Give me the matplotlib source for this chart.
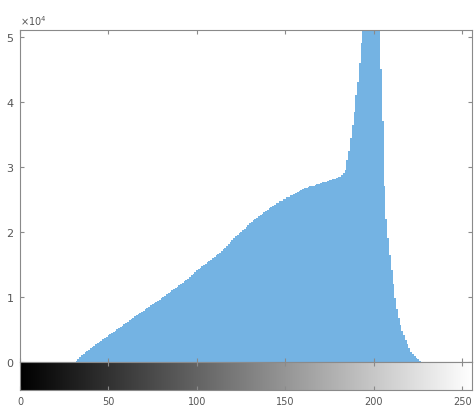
import numpy as np
import matplotlib
matplotlib.use("Agg")
import matplotlib.pyplot as plt
from matplotlib.ticker import ScalarFormatter

# histogram counts (x 1e4), gray levels 0..255
zeros_low = [0.0] * 32          # levels 0..31
rise = [0.02, 0.05, 0.08, 0.11, 0.13, 0.15, 0.17, 0.19, 0.21, 0.23,   # 32..41
        0.25, 0.27, 0.29, 0.31, 0.33, 0.35, 0.37, 0.39, 0.41, 0.43,   # 42..51
        0.44, 0.46, 0.48, 0.50, 0.52, 0.54, 0.56, 0.58, 0.60, 0.62,   # 52..61
        0.64, 0.66, 0.68, 0.70, 0.72, 0.74, 0.75, 0.77, 0.79, 0.81,   # 62..71
        0.83, 0.85, 0.87, 0.89, 0.90, 0.92, 0.94, 0.96, 0.98]         # 72..80
mid = [1.00, 1.02, 1.04, 1.06, 1.08, 1.10, 1.12, 1.14, 1.16, 1.18,    # 81..90
       1.20, 1.22, 1.24, 1.26, 1.28, 1.30, 1.33, 1.36, 1.39,          # 91..99
       1.41, 1.43, 1.45, 1.47, 1.49, 1.51, 1.53, 1.55, 1.57, 1.60,    # 100..109
       1.62, 1.64, 1.66, 1.68, 1.71, 1.73, 1.76, 1.79, 1.82,          # 110..118
       1.85, 1.88, 1.90, 1.93, 1.95, 1.98, 2.00, 2.03, 2.05, 2.08,    # 119..128
       2.10, 2.13, 2.15, 2.18, 2.20,                                  # 129..133
       2.22, 2.24, 2.26, 2.28, 2.30, 2.32, 2.34, 2.36, 2.38, 2.40,    # 134..143
       2.42, 2.44, 2.45,                                              # 144..146
       2.47, 2.48, 2.50, 2.51, 2.53, 2.54, 2.56, 2.57, 2.59, 2.60,    # 147..156
       2.61, 2.63, 2.64, 2.66, 2.67,                                  # 157..161
       2.68, 2.69, 2.70, 2.70, 2.71, 2.72, 2.73, 2.74, 2.75, 2.76,    # 162..171
       2.76, 2.77, 2.78, 2.79, 2.80, 2.81, 2.82,                      # 172..178
       2.83, 2.84, 2.85, 2.87, 2.90]                                  # 179..183
peak = [2.95, 3.10, 3.25, 3.45, 3.65, 3.85, 4.10, 4.30, 4.60, 4.90,   # 184..193
        5.30, 5.70, 6.00, 6.30, 6.50, 6.60, 6.50, 6.20, 5.80, 5.30,   # 194..203
        4.50, 3.70, 2.70, 2.20, 1.90, 1.65, 1.42, 1.20, 0.98, 0.82,   # 204..213
        0.68, 0.57, 0.48, 0.41, 0.34, 0.27, 0.21, 0.16, 0.12, 0.09,   # 214..223
        0.06, 0.04, 0.02]                                             # 224..226
zeros_high = [0.0] * 29         # levels 227..255

counts = np.array(zeros_low + rise + mid + peak + zeros_high) * 1e4
levels = np.arange(len(counts))

txt = "#555555"
edge = "#8a8a8a"

fig = plt.figure(figsize=(4.75, 4.08), dpi=100)
ax = fig.add_axes([0.042, 0.1127, 0.952, 0.8133])
cax = fig.add_axes([0.042, 0.044, 0.952, 0.0686])

ax.bar(levels, counts, width=1.0, color="#74b3e3", linewidth=0)
ax.set_xlim(0, 255.5)
ax.set_ylim(0, 5.1e4)
ax.set_yticks(np.arange(0, 6) * 1e4)
ax.set_xticks([0, 50, 100, 150, 200, 250])
ax.set_xticklabels([])
fmt = ScalarFormatter(useMathText=True)
fmt.set_powerlimits((0, 0))
ax.yaxis.set_major_formatter(fmt)
ax.yaxis.get_offset_text().set_fontsize(7)
ax.yaxis.get_offset_text().set_color(txt)
ax.tick_params(direction="in", top=True, right=True, length=3,
               labelsize=8, colors=edge, labelcolor=txt, pad=4)
for s in ax.spines.values():
    s.set_color(edge)

grad = np.linspace(0, 1, 256).reshape(1, -1)
cax.imshow(grad, cmap="gray", aspect="auto", extent=(0, 255.5, 0, 1))
cax.set_xlim(0, 255.5)
cax.set_yticks([])
cax.set_xticks([0, 50, 100, 150, 200, 250])
cax.tick_params(direction="in", top=True, length=3, labelsize=7,
                colors=edge, labelcolor=txt, pad=5)
for s in cax.spines.values():
    s.set_color(edge)

fig.savefig("out.png", dpi=100)
